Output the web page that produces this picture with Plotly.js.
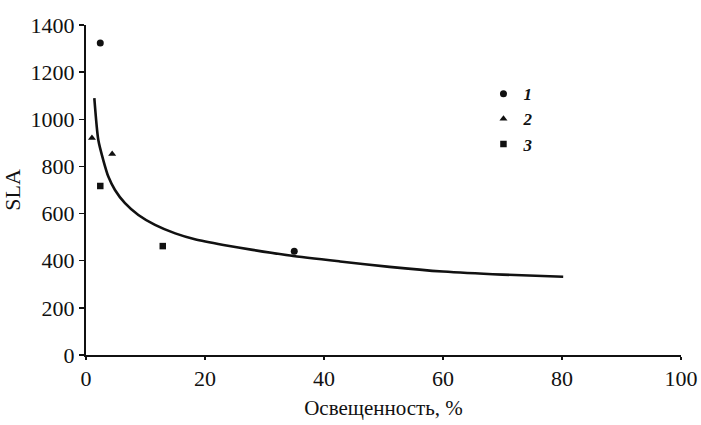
<!DOCTYPE html>
<html>
<head>
<meta charset="utf-8">
<script src="https://cdn.plot.ly/plotly-3.0.1.min.js"></script>
<style>html,body{margin:0;padding:0;background:#fff;}#chart{width:701px;height:425px;}</style>
</head>
<body>
<div id="chart"></div>
<script>
// Series 1 (circles)
const s1X = [2.4, 35.0];
const s1Y = [1324, 440];
// Series 2 (triangles)
const s2X = [1.0, 4.4];
const s2Y = [921, 853];
// Series 3 (squares)
const s3X = [2.4, 12.9];
const s3Y = [717, 462];
// Fitted curve
const fitX = [1.4, 2.07, 2.9, 3.75, 4.87, 6.55, 8.8, 11.6, 15.0, 18.3, 23.1, 28.0, 34.3, 42.7, 51.0, 60.0, 70.0, 80.2];
const fitY = [1090, 912, 827, 757, 700, 644, 594, 552, 516, 491, 467, 446, 422, 397, 374, 354, 341, 332];
const legendNames = ['1', '2', '3'];

const serif = 'Liberation Serif, DejaVu Serif, serif';

const traces = [
  {x: fitX, y: fitY, mode: 'lines', line: {color: '#111', width: 2.6, shape: 'spline', smoothing: 0.7}, showlegend: false, hoverinfo: 'skip'},
  {x: s1X, y: s1Y, mode: 'markers', name: '<b><i>' + legendNames[0] + '</i></b>', marker: {symbol: 'circle', size: 7, color: '#111'}},
  {x: s2X, y: s2Y, mode: 'markers', name: '<b><i>' + legendNames[1] + '</i></b>', marker: {symbol: 'triangle-up', size: 7, color: '#111'}},
  {x: s3X, y: s3Y, mode: 'markers', name: '<b><i>' + legendNames[2] + '</i></b>', marker: {symbol: 'square', size: 6.5, color: '#111'}}
];

const layout = {
  width: 701, height: 425,
  margin: {l: 86, r: 20, t: 25, b: 70},
  paper_bgcolor: '#fff', plot_bgcolor: '#fff',
  font: {family: serif, size: 21, color: '#111'},
  showlegend: true,
  legend: {x: 0.668, y: 0.845, xanchor: 'left', yanchor: 'top', bgcolor: 'rgba(0,0,0,0)',
           font: {family: serif, size: 17, color: '#111'}, itemwidth: 30, tracegroupgap: 0},
  xaxis: {
    range: [0, 100], dtick: 20, showgrid: false, zeroline: false,
    showline: true, linecolor: '#111', linewidth: 2,
    ticks: 'outside', ticklen: 3, tickwidth: 1.5, tickcolor: '#111',
    tickfont: {family: serif, size: 22, color: '#111'},
    title: {text: 'Освещенность, %', font: {family: serif, size: 21, color: '#111'}, standoff: 10}
  },
  yaxis: {
    range: [0, 1400], dtick: 200, showgrid: false, zeroline: false,
    showline: true, linecolor: '#111', linewidth: 2,
    ticks: 'outside', ticklen: 5, tickwidth: 1.5, tickcolor: '#111',
    tickfont: {family: serif, size: 22, color: '#111'},
    title: {text: 'SLA', font: {family: serif, size: 22, color: '#111'}, standoff: 6}
  }
};

Plotly.newPlot('chart', traces, layout, {displayModeBar: false, staticPlot: true});
</script>
</body>
</html>
